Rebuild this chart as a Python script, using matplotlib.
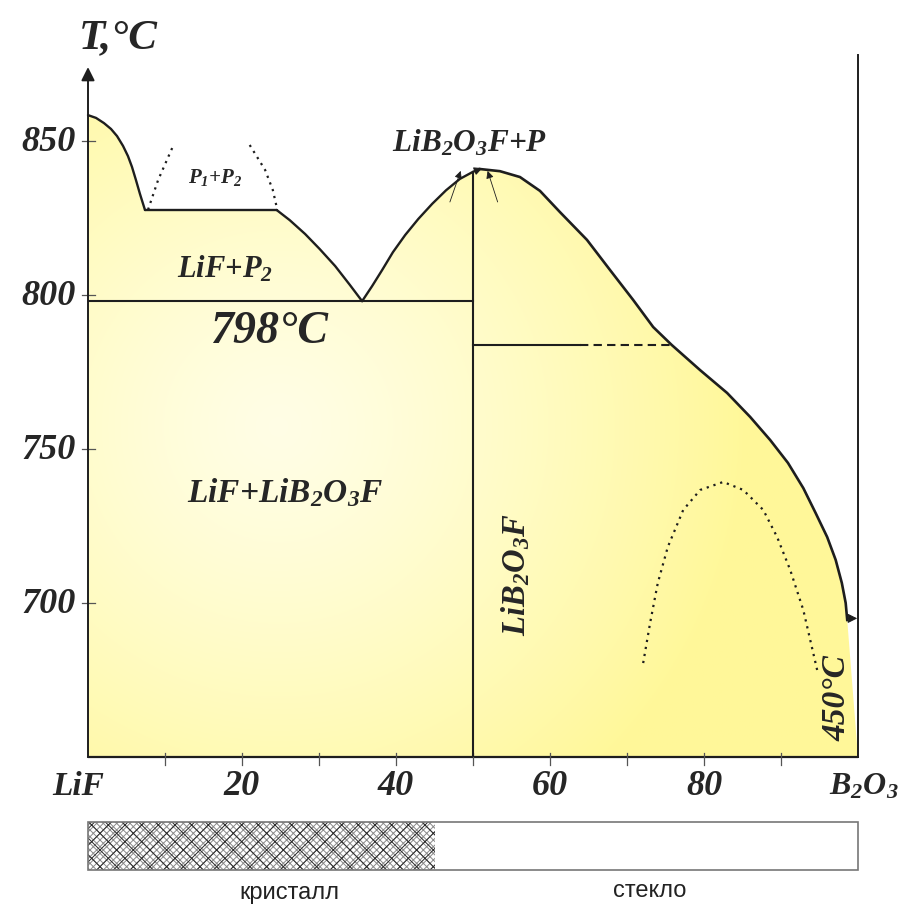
import matplotlib.pyplot as plt
from matplotlib.patches import Polygon, Rectangle
import numpy as np

plt.rcParams['hatch.linewidth'] = 0.7
plt.rcParams['mathtext.default'] = 'regular'

# liquidus, LiF side down to the monotectic plateau
lif_x = [0.0, 1.04, 2.08, 2.99, 3.77, 4.55, 5.19, 5.71, 6.23, 6.75, 7.40]
lif_t = [858.4, 857.5, 855.8, 853.9, 851.6, 848.4, 845.1, 841.6, 837.3, 832.8, 827.6]
plateau_t = 827.6
plateau_x = [7.4, 24.5]
# P2 branch down to the eutectic
p2_x = [24.5, 26.2, 28.2, 30.1, 32.1, 34.0, 35.6]
p2_t = [827.6, 824.3, 819.8, 814.9, 809.4, 803.3, 798.0]
eutectic_t = 798
# LiB2O3F branch up to the congruent maximum
lbof_x = [35.6, 36.9, 38.2, 39.6, 41.2, 42.9, 44.7, 46.5, 48.3, 50.0, 50.9]
lbof_t = [798.0, 802.9, 808.1, 813.9, 819.5, 824.7, 829.6, 834.0, 837.7, 840.0, 840.9]
# B2O3 side of the liquidus
b2o3_x = [50.9, 53.5, 56.1, 58.7, 61.3, 64.8, 67.8, 70.8, 73.4, 75.8, 79.5, 83.0,
          86.0, 88.6, 90.9, 92.9, 94.5, 96.0, 97.1, 97.9, 98.4, 98.6]
b2o3_t = [840.9, 840.2, 838.3, 833.8, 826.9, 817.9, 808.1, 798.4, 789.6, 783.8,
          775.6, 768.2, 760.4, 752.9, 745.5, 737.3, 729.2, 721.4, 714.0, 706.5,
          700.0, 694.5]
liq_end_t = 694.5
compound_x = 50
right_line_t = 783.8
right_line_solid = [50, 63.9]
right_line_dash = [63.9, 75.8]

# immiscibility dome P1+P2
dome1_left_x = [7.8, 9.1, 11.0]
dome1_left_t = [827.7, 837.3, 848.1]
dome1_right_x = [21.0, 23.0, 24.0, 24.5]
dome1_right_t = [848.7, 840.6, 834.1, 828.6]
# metastable dome in the glass region
dome2_x = [72.1, 73.0, 74.0, 75.3, 77.3, 79.5, 82.5, 85.1, 87.7, 89.5, 91.2, 92.9, 94.7]
dome2_t = [680.5, 693.5, 706.5, 718.2, 730.2, 736.7, 739.3, 736.7, 730.2, 721.4,
           710.7, 697.7, 678.2]

y_ticks = [850, 800, 750, 700]
x_ticks = [10, 20, 30, 40, 50, 60, 70, 80, 90]
x_labels = [20, 40, 60, 80]
crystal_end = 45

T_MIN, T_MAX = 650, 875
ink = '#1e1e1e'
serif = dict(family='Liberation Serif', weight='bold', style='italic', color='#262626')

fig = plt.figure(figsize=(9.04, 9.09), dpi=100)
W, H = 904, 909
ax = fig.add_axes([88 / W, 1 - 757 / H, 770 / W, 693 / H])
ax.set_xlim(0, 100)
ax.set_ylim(T_MIN, T_MAX)
ax.axis('off')

# region below the liquidus, shaded with a soft yellow gradient
outline_x = lif_x + plateau_x[1:] + p2_x[1:] + lbof_x[1:] + b2o3_x[1:] + [100, 0]
outline_t = lif_t + [plateau_t] + p2_t[1:] + lbof_t[1:] + b2o3_t[1:] + [T_MIN, T_MIN]
region = Polygon(np.column_stack([outline_x, outline_t]), closed=True,
                 facecolor='none', edgecolor='none')
ax.add_patch(region)

gx, gy = np.meshgrid(np.linspace(0, 100, 400), np.linspace(T_MAX, T_MIN, 400))
px = gx * 7.7
py = (gy - 650) * 3.08
d = np.hypot(px - 190, py - 330) / 470
t = np.clip(d, 0, 1) ** 1.3
pale = np.array([1.0, 0.996, 0.90])
yellow = np.array([1.0, 0.972, 0.60])
img = pale * (1 - t[..., None]) + yellow * t[..., None]
im = ax.imshow(img, extent=(0, 100, T_MIN, T_MAX), aspect='auto', zorder=0)
im.set_clip_path(region)

# axes frame
ax.annotate('', xy=(0, 874), xytext=(0, T_MIN),
            arrowprops=dict(arrowstyle='-|>', color=ink, lw=1.4, mutation_scale=20,
                            shrinkA=0, shrinkB=0))
ax.plot([0, 100], [T_MIN, T_MIN], color=ink, lw=1.6, clip_on=False, solid_capstyle='round')
ax.plot([100, 100], [T_MIN, 878], color=ink, lw=1.4, clip_on=False)
for v in y_ticks:
    ax.plot([-0.8, 0.9], [v, v], color='#555555', lw=0.9, clip_on=False)
for v in x_ticks:
    ax.plot([v, v], [651.3, 647.4], color='#555555', lw=0.9, clip_on=False)

# liquidus curves
curve = dict(color=ink, lw=1.7, solid_joinstyle='round', solid_capstyle='round')
ax.plot(lif_x, lif_t, clip_on=False, **curve)
ax.plot(plateau_x, [plateau_t, plateau_t], **curve)
ax.plot(p2_x, p2_t, **curve)
ax.plot(lbof_x, lbof_t, **curve)
ax.plot(b2o3_x, b2o3_t, color=ink, lw=1.9, solid_joinstyle='round')
ax.annotate('', xy=(99.9, liq_end_t + 0.5), xytext=(98.6, liq_end_t + 0.5),
            arrowprops=dict(arrowstyle='-|>', color=ink, lw=0.8, mutation_scale=14,
                            shrinkA=0, shrinkB=0))

# eutectic and compound lines
ax.plot([0, compound_x], [eutectic_t, eutectic_t], color=ink, lw=1.5)
ax.plot([compound_x, compound_x], [T_MIN, 840.0], color=ink, lw=1.5)
ax.annotate('', xy=(51.2, 841.2), xytext=(50.0, 840.0),
            arrowprops=dict(arrowstyle='-|>', color=ink, lw=0.8, mutation_scale=12,
                            shrinkA=0, shrinkB=0))
ax.plot(right_line_solid, [right_line_t] * 2, color=ink, lw=1.5)
ax.plot(right_line_dash, [right_line_t] * 2, color=ink, lw=1.5, ls=(0, (4, 2.5)))

# arrows to the maximum
for x0, x1 in [(47.0, 48.4), (53.2, 51.9)]:
    ax.annotate('', xy=(x1, 840.3), xytext=(x0, 830.2),
                arrowprops=dict(arrowstyle='-|>', color=ink, lw=0.6, mutation_scale=11,
                                shrinkA=0, shrinkB=0))

# dotted domes
dots = dict(color=ink, lw=1.6, ls=(0, (1, 2.2)))
ax.plot(dome1_left_x, dome1_left_t, **dots)
ax.plot(dome1_right_x, dome1_right_t, **dots)
ax.plot(dome2_x, dome2_t, **dots)

# tick labels
for v in y_ticks:
    ax.text(-1.6, v - 0.5, str(v), ha='right', va='center', fontsize=26, **serif)
ax.text(-1.3, 640.3, 'LiF', ha='center', va='center', fontsize=24, **serif)
for v in x_labels:
    ax.text(v, 640.3, str(v), ha='center', va='center', fontsize=26, **serif)
ax.text(100.8, 640.3, r'$\mathregular{B_2O_3}$', ha='center', va='center', fontsize=23, **serif)
ax.text(3.9, 883.4, 'T,°C', ha='center', va='center', fontsize=31, **serif)

# phase fields
ax.text(49.6, 849.4, r'$\mathregular{LiB_2O_3F{+}P}$', ha='center', va='center', fontsize=22.5, **serif)
ax.text(16.5, 838.0, r'$\mathregular{P_1{+}P_2}$', ha='center', va='center', fontsize=15, **serif)
ax.text(17.8, 808.5, r'$\mathregular{LiF{+}P_2}$', ha='center', va='center', fontsize=22, **serif)
ax.text(23.5, 788.0, '798°C', ha='center', va='center', fontsize=33, **serif)
ax.text(25.6, 735.7, r'$\mathregular{LiF{+}LiB_2O_3F}$', ha='center', va='center', fontsize=24, **serif)
ax.text(55.5, 709.1, r'$\mathregular{LiB_2O_3F}$', ha='center', va='center', fontsize=23.5,
        rotation=90, **serif)
ax.text(97.3, 669.0, '450°C', ha='center', va='center', fontsize=24, rotation=90, **serif)

# crystal / glass strip
bar = fig.add_axes([88 / W, 1 - 870 / H, 770 / W, 48 / H])
bar.set_xlim(0, 100)
bar.set_ylim(0, 1)
bar.axis('off')
bar.add_patch(Rectangle((0, 0), crystal_end, 1, facecolor='white', edgecolor='#8a8a8a',
                        hatch='x' * 5, lw=0))
bar.add_patch(Rectangle((0, 0), crystal_end, 1, facecolor='none', edgecolor='#2a2a2a',
                        hatch='xx', lw=0))
bar.add_patch(Rectangle((0, 0), 100, 1, facecolor='none', edgecolor='#777777', lw=1.2,
                        clip_on=False))
sans = dict(family=['Liberation Sans Narrow', 'Liberation Sans'], color='#222222', fontsize=17)
bar.text(26.2, -0.48, 'кристалл', ha='center', va='center', **sans)
bar.text(73.0, -0.44, 'стекло', ha='center', va='center', **sans)

fig.savefig('out.png', dpi=100)
